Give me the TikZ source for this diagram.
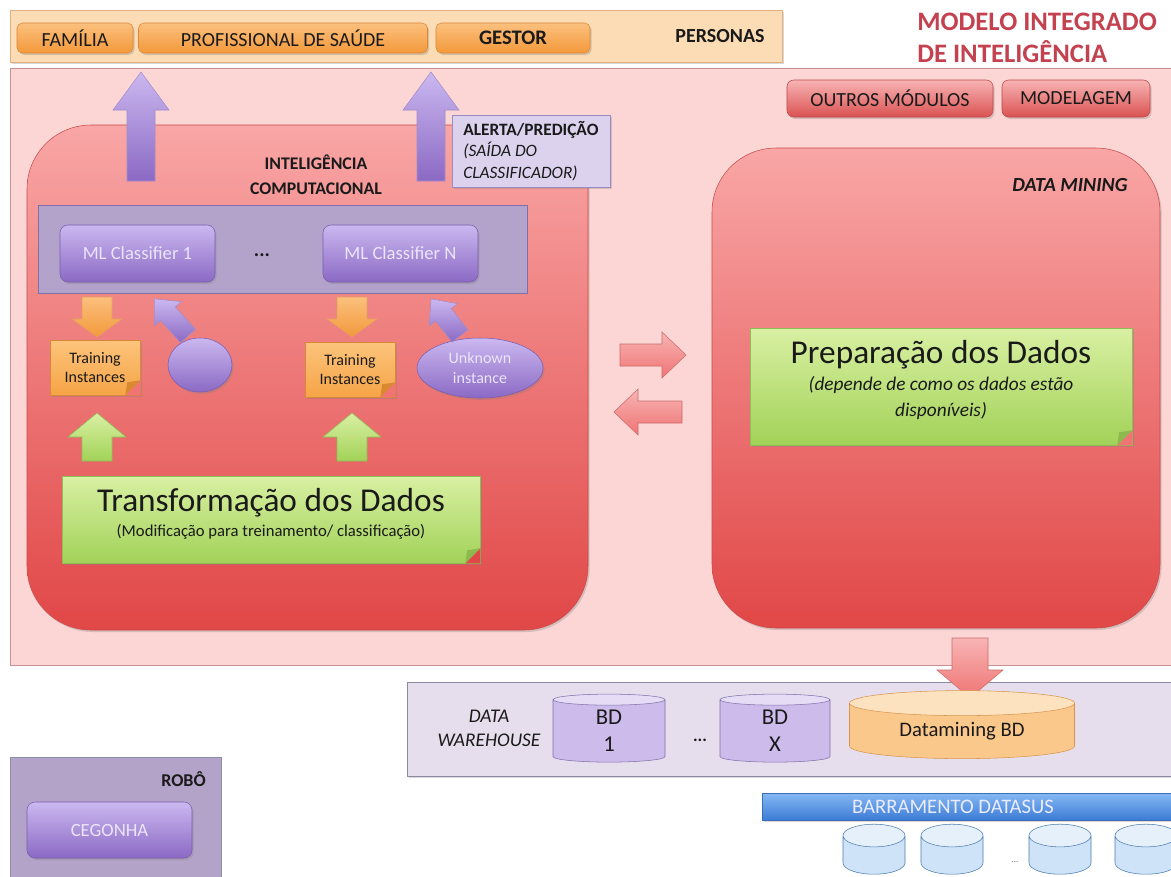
\documentclass[tikz,border=0pt]{standalone}
\usepackage{fontspec}
\setmainfont{Carlito}
\usetikzlibrary{shapes.geometric,shadows,calc}

% palette
\definecolor{txtDark}{HTML}{1A1A1A}
\definecolor{titleRed}{HTML}{C4424F}
\definecolor{areaFill}{HTML}{FCD5D5}
\definecolor{areaLine}{HTML}{C89090}
\definecolor{persFill}{HTML}{FCDCB4}
\definecolor{persLine}{HTML}{E0B080}
\definecolor{orTop}{HTML}{FBC07E}
\definecolor{orBot}{HTML}{F3993A}
\definecolor{orLine}{HTML}{D9873A}
\definecolor{rdTop}{HTML}{F8B4B4}
\definecolor{rdBot}{HTML}{DA5252}
\definecolor{rdLine}{HTML}{BE4646}
\definecolor{bigTop}{HTML}{F9A6A6}
\definecolor{bigMid}{HTML}{F07474}
\definecolor{bigBot}{HTML}{E14747}
\definecolor{bigLine}{HTML}{C84A4A}
\definecolor{bandFill}{HTML}{B3A3CB}
\definecolor{bandLine}{HTML}{7F70AA}
\definecolor{puTop}{HTML}{CBB8F0}
\definecolor{puBot}{HTML}{8B69C4}
\definecolor{puLine}{HTML}{7A5CB0}
\definecolor{puText}{HTML}{ECE4FA}
\definecolor{alertFill}{HTML}{DCD2EE}
\definecolor{alertLine}{HTML}{9A8CC0}
\definecolor{grTop}{HTML}{D9F0A3}
\definecolor{grBot}{HTML}{A2D258}
\definecolor{grLine}{HTML}{8DBF56}
\definecolor{grFold}{HTML}{8DBA4E}
\definecolor{trTop}{HTML}{FCC47C}
\definecolor{trBot}{HTML}{F6A446}
\definecolor{trFold}{HTML}{D98A30}
\definecolor{whFill}{HTML}{E7DEED}
\definecolor{whLine}{HTML}{8A8AA0}
\definecolor{cyBody}{HTML}{CDBBEC}
\definecolor{cyEnd}{HTML}{E6DCF6}
\definecolor{cyLine}{HTML}{8070AA}
\definecolor{ocBody}{HTML}{FBC88C}
\definecolor{ocEnd}{HTML}{FDE2C0}
\definecolor{ocLine}{HTML}{D8954A}
\definecolor{buTop}{HTML}{86B8F3}
\definecolor{buBot}{HTML}{3C7CD6}
\definecolor{buLine}{HTML}{3A6FB8}
\definecolor{scBody}{HTML}{CFE3F8}
\definecolor{scEnd}{HTML}{E6F0FB}
\definecolor{scLine}{HTML}{4A7CB0}
\definecolor{robFill}{HTML}{B4A3C8}
\definecolor{robLine}{HTML}{8A8FAE}

\newcommand\fsz[2]{\fontsize{#1}{#2}\selectfont}
\newcommand\px[1]{#1*0.75pt}

% block arrow: name, tail point, direction angle, length, body width, head width, head length, style
\newcommand\blockarrow[8]{%
  \begin{scope}[shift={#2},rotate=#3]
    \path[#8] (0,-#5/2) -- ({#4-#7},-#5/2) -- ({#4-#7},-#6/2) -- (#4,0)
      -- ({#4-#7},#6/2) -- ({#4-#7},#5/2) -- (0,#5/2) -- cycle;
    \coordinate (#1) at (#4,0);
  \end{scope}}

% folded corner at the south east of a note node
\newcommand\fold[3]{%
  \fill[#2] ($(#1.south east)+(-15,0)$) -- (#1.south east) -- ($(#1.south east)+(0,-15)$) -- cycle;
  \fill[#3] ($(#1.south east)+(-15,0)$) -- ($(#1.south east)+(0,-15)$) -- ($(#1.south east)+(-13,-13)$) -- cycle;}

\tikzset{
  x=0.75pt, y=-0.75pt,
  shadowed/.style={drop shadow={opacity=0.3,shadow xshift=1.2pt,shadow yshift=-1.5pt}},
  base/.style={rectangle, inner sep=0pt, align=center, text=txtDark},
  orangebtn/.style={base, rounded corners=4pt, draw=orLine, top color=orTop, bottom color=orBot, shadowed, font=\fsz{15}{17}},
  redbtn/.style={base, rounded corners=5pt, draw=rdLine, top color=rdTop, bottom color=rdBot, shadowed, font=\fsz{15}{17}},
  purplebtn/.style={base, rounded corners=6pt, draw=puLine, top color=puTop, bottom color=puBot, shadowed, text=puText, font=\fsz{14}{16}},
  bigbox/.style={base, rounded corners=48pt, draw=bigLine, top color=bigTop, middle color=bigMid, bottom color=bigBot, shadowed},
  greennote/.style={base, draw=grLine, top color=grTop, bottom color=grBot, shadowed},
  trainnote/.style={base, draw=orLine, top color=trTop, bottom color=trBot, shadowed, font=\fsz{12}{14.5}},
  dbcyl/.style={cylinder, shape border rotate=90, draw, inner sep=0pt, align=center, text=txtDark, cylinder uses custom fill},
  srccyl/.style={dbcyl, draw=scLine, cylinder body fill=scBody, cylinder end fill=scEnd, aspect=0.5, minimum width=\px{62}, minimum height=\px{50}},
  purplearrow/.style={draw=puLine!70, top color=puTop, bottom color=puBot},
  orangearrow/.style={draw=orLine!80, top color=orTop, bottom color=orBot},
  greenarrow/.style={draw=grLine, top color=grTop, bottom color=grBot},
  redarrow/.style={draw=rdLine!80, top color=rdTop, bottom color=bigMid},
  lbl/.style={inner sep=0pt, align=center, text=txtDark}
}

\begin{document}
\begin{tikzpicture}
\useasboundingbox (0,0) rectangle (1171,876);
\fill[white] (0,0) rectangle (1171,876);
\clip (0,0) rectangle (1171,876);

% personas bar
\node[base, draw=persLine, fill=persFill, shadowed, minimum width=\px{772}, minimum height=\px{52}] (personas) at (396,36) {};
\node[orangebtn, minimum width=\px{116}, minimum height=\px{30}] (familia) at (75,38) {FAMÍLIA};
\node[orangebtn, minimum width=\px{289}, minimum height=\px{30}] (profsaude) at (283,38) {PROFISSIONAL DE SAÚDE};
\node[orangebtn, minimum width=\px{154}, minimum height=\px{30}, font=\fsz{15.5}{17}\bfseries] (gestor) at (513,38) {GESTOR};
\node[lbl, font=\fsz{15}{17}\bfseries] (perslbl) at (720,36) {PERSONAS};

% title
\node[inner sep=0pt, anchor=west, align=left, text=titleRed, font=\fsz{20}{23.5}\bfseries] (title) at (917,38) {MODELO INTEGRADO\\DE INTELIGÊNCIA};

% main area
\node[base, draw=areaLine, fill=areaFill, minimum width=\px{1175}, minimum height=\px{597}] (main) at (597.5,366.5) {};
\node[redbtn, minimum width=\px{206}, minimum height=\px{37}] (outros) at (890,98.5) {OUTROS MÓDULOS};
\node[redbtn, minimum width=\px{148}, minimum height=\px{37}] (modelagem) at (1076,98.5) {MODELAGEM};

% computational intelligence block
\node[bigbox, minimum width=\px{561}, minimum height=\px{505}] (ic) at (307.5,377.5) {};
\node[lbl, font=\fsz{13.3}{18.5}\bfseries] (iclbl) at (316,175) {INTELIGÊNCIA\\COMPUTACIONAL};

% outputs towards the personas
\blockarrow{outA}{(141,181)}{90}{109}{28}{56}{38}{purplearrow}
\blockarrow{outB}{(431,181)}{90}{109}{28}{56}{38}{purplearrow}
\node[base, draw=alertLine, fill=alertFill, shadowed, minimum width=\px{158}, minimum height=\px{72}] (alerta) at (531,151) {};
\node[inner sep=0pt, anchor=north west, align=left, text=txtDark, font=\fsz{13}{16}] (alertalbl) at (463,121)
  {\textbf{ALERTA/PREDIÇÃO}\\\textit{(SAÍDA DO}\\\textit{CLASSIFICADOR)}};

% classifiers
\node[base, draw=bandLine, fill=bandFill, minimum width=\px{489}, minimum height=\px{88}] (band) at (282.5,249) {};
\node[purplebtn, minimum width=\px{155}, minimum height=\px{57}] (ml1) at (137.5,253.5) {ML Classifier 1};
\node[purplebtn, minimum width=\px{155}, minimum height=\px{57}] (mln) at (400.5,253.5) {ML Classifier N};
\node[lbl, font=\fsz{15}{16}\bfseries] (mldots) at (262,255) {...};

% training instances and inputs
\node[trainnote, minimum width=\px{90}, minimum height=\px{55}] (train1) at (95,367.5) {Training\\Instances};
\node[trainnote, minimum width=\px{90}, minimum height=\px{55}] (train2) at (350,369.5) {Training\\Instances};
\fold{train1}{bigMid}{trFold}
\fold{train2}{bigMid}{trFold}
\node[ellipse, draw=puLine, top color=puTop, bottom color=puBot, shadowed, minimum width=\px{64}, minimum height=\px{54}, inner sep=0pt] (inst1) at (200,365) {};
\node[ellipse, draw=puLine, top color=puTop, bottom color=puBot, shadowed, minimum width=\px{126}, minimum height=\px{60}, inner sep=0pt, align=center, text=puText, font=\fsz{12}{14.5}] (unknown) at (480,368) {Unknown\\instance};

\blockarrow{dnA}{(97,297)}{-90}{40}{30}{50}{18}{orangearrow}
\blockarrow{dnB}{(352,297)}{-90}{40}{30}{50}{18}{orangearrow}
\blockarrow{inA}{(188,336)}{132}{50}{20}{36}{20}{purplearrow}
\blockarrow{inB}{(460,336)}{128}{47}{20}{36}{20}{purplearrow}
\blockarrow{upA}{(97,461)}{90}{48}{30}{58}{24}{greenarrow}
\blockarrow{upB}{(352,461)}{90}{48}{30}{58}{24}{greenarrow}

% data transformation
\node[greennote, minimum width=\px{418}, minimum height=\px{87}] (transf) at (271,519.5) {};
\fold{transf}{bigBot}{grFold}
\node[lbl, font=\fsz{25}{28}] (transft) at (271,503) {Transformação dos Dados};
\node[lbl, font=\fsz{12.5}{14}] (transfs) at (271,532) {(Modificação para treinamento/ classificação)};

% data mining block
\node[bigbox, minimum width=\px{448}, minimum height=\px{480}] (dm) at (936,388) {};
\node[lbl, font=\fsz{15}{17}\bfseries\itshape] (dmlbl) at (1070,185) {DATA MINING};
\node[greennote, minimum width=\px{382}, minimum height=\px{117}] (prep) at (941,386.5) {};
\fold{prep}{bigMid}{grFold}
\node[lbl, font=\fsz{25}{28}] (prept) at (941,355) {Preparação dos Dados};
\node[lbl, font=\fsz{14.5}{19}\itshape] (preps) at (941,398) {(depende de como os dados estão\\disponíveis)};

% exchange between the blocks
\blockarrow{toDM}{(620,355)}{0}{66}{22}{46}{24}{redarrow}
\blockarrow{toIC}{(682,412)}{180}{68}{22}{46}{24}{redarrow}

% data warehouse
\node[base, draw=whLine, fill=whFill, shadowed, minimum width=\px{775}, minimum height=\px{94}] (dw) at (794.5,729) {};
\blockarrow{toDW}{(970,638)}{-90}{60}{36}{66}{28}{redarrow}
\node[lbl, font=\fsz{14.5}{18}\itshape] (dwlbl) at (489,728) {DATA\\WAREHOUSE};
\node[dbcyl, draw=cyLine, cylinder body fill=cyBody, cylinder end fill=cyEnd, aspect=0.42, minimum width=\px{112}, minimum height=\px{68}, font=\fsz{17}{20}] (bd1) at (609,731) {BD\\1};
\node[lbl, font=\fsz{13}{14}\bfseries] (bddots) at (700,740) {...};
\node[dbcyl, draw=cyLine, cylinder body fill=cyBody, cylinder end fill=cyEnd, aspect=0.42, minimum width=\px{110}, minimum height=\px{68}, font=\fsz{17}{20}] (bdx) at (775,731) {BD\\X};
\node[dbcyl, draw=ocLine, cylinder body fill=ocBody, cylinder end fill=ocEnd, aspect=0.2, minimum width=\px{225}, minimum height=\px{68}, font=\fsz{15.5}{18}] (dmbd) at (962,731) {Datamining BD};

% DATASUS bus and its sources
\node[base, draw=buLine, top color=buTop, bottom color=buBot, shadowed, minimum width=\px{420}, minimum height=\px{27}] (bus) at (972,806.5) {};
\node[lbl, text=white!92!blue, font=\fsz{15.5}{17}] (buslbl) at (953,806.5) {BARRAMENTO DATASUS};
\node[srccyl] (src1) at (874,855) {\hspace*{34pt}};
\node[srccyl] (src2) at (952,855) {\hspace*{34pt}};
\node[lbl, text=gray, font=\fsz{7}{8}] (srcdots) at (1015,862) {...};
\node[srccyl] (src3) at (1060,855) {\hspace*{34pt}};
\node[srccyl] (src4) at (1146,855) {\hspace*{34pt}};

% robot
\node[base, draw=robLine, fill=robFill, minimum width=\px{211}, minimum height=\px{125}] (robo) at (115.5,819.5) {};
\node[inner sep=0pt, anchor=east, text=txtDark, font=\fsz{13.5}{16}\bfseries] (robolbl) at (206,779) {ROBÔ};
\node[purplebtn, minimum width=\px{165}, minimum height=\px{56}, font=\fsz{14}{16}] (cegonha) at (109.5,830) {CEGONHA};
\end{tikzpicture}
\end{document}
